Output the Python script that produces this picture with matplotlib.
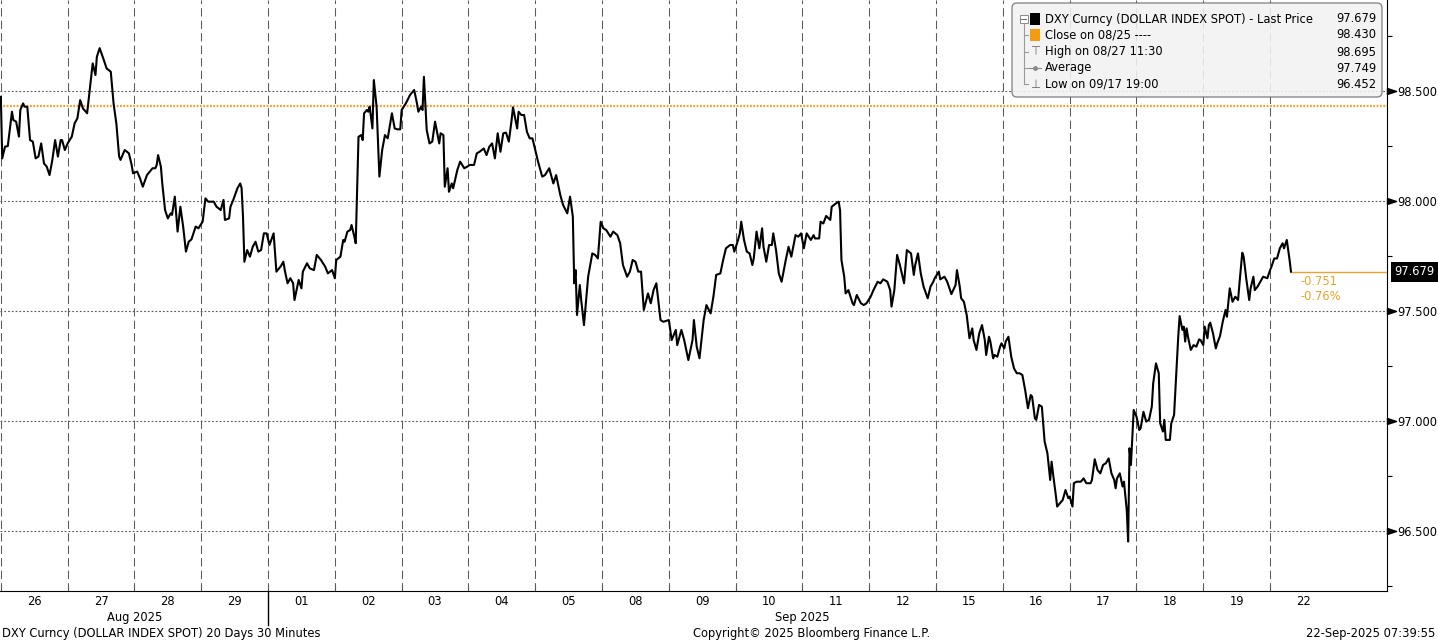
import numpy as np
import matplotlib.pyplot as plt
from matplotlib.patches import FancyBboxPatch, Rectangle
from matplotlib.lines import Line2D
from matplotlib.path import Path
from matplotlib.transforms import blended_transform_factory

# hours since 26 Aug 00:00 (trading days only, weekends skipped) and DXY price
hours = [
    0, 0.5, 1.5, 2.5, 4, 4.5, 5.5, 6.5, 7, 8, 8.5, 9.5, 10.5, 11.5, 12.5, 13.5, 14.5, 15.5,
    16.5, 17.5, 18.5, 19.5, 20.5, 21.5, 22, 23,
    24, 25.5, 26.5, 27.5, 28.5, 29.5, 31, 32, 33, 34, 34.5, 35.5, 37, 38, 39.5, 40.5, 41.5,
    42.5, 43, 44.5, 46, 47,
    47.5, 49, 50, 51, 52.5, 54.5, 55.5, 56, 56.5, 57.5, 58, 59, 60, 61, 61.5, 62.5, 63.5,
    64.5, 65.5, 66.5, 67.5, 68.5, 70, 71,
    72.5, 73.5, 74.5, 76.5, 77.5, 79, 80, 80.5, 82, 82.5, 83.5, 85, 86, 86.5, 87, 87.5,
    88.5, 89.5, 90.5, 91.5, 92.5, 93.5, 94.5, 95.5,
    96.5, 98, 99, 100.5, 101.5, 102, 103, 104, 105, 105.5, 107, 108, 108.5, 110, 111,
    112.5, 113.5, 115, 116.5, 117.5, 119,
    120, 120.5, 122, 123, 123.5, 124.5, 125.5, 126, 127, 127.5, 128.5, 129.5, 130, 130.5,
    131.5, 132, 132.5, 133.5, 134, 135, 136, 137, 138, 139, 140.5, 141.5, 142.5, 143.5,
    144, 145.5, 147, 148.5, 149.5, 150, 151, 151.5, 152, 153, 154, 155, 156, 157.5, 158,
    159, 159.5, 160.5, 161, 162, 162.5, 164, 165, 166.5, 167.5,
    168.5, 170, 171, 172, 173.5, 174.5, 175.5, 176.5, 177.5, 178.5, 179.5, 180.5, 181.5,
    182.5, 183.5, 184, 185.5, 186, 187, 188, 189, 190, 191,
    192, 193, 194.5, 195.5, 197, 198.5, 199.5, 201, 202, 203.5, 204.5, 205.5, 206, 206.5,
    207, 208, 208.5, 209.5, 210.5, 211, 212.5, 213.5, 214.5,
    215.5, 216.5, 217.5, 219, 220, 221.5, 222.5, 223.5, 225, 226, 227, 228, 229, 230, 231,
    232.5, 233.5, 234.5, 235.5, 237, 238,
    240, 241, 242.5, 243, 244.5, 245.5, 247, 248.5, 249, 250, 251, 252.5, 253.5, 255, 256,
    257, 258.5, 259.5, 260.5, 262,
    263, 263.5, 264.5, 265.5, 266, 267, 268, 269, 270, 270.5, 271.5, 272.5, 273.5, 274,
    275, 276, 277, 277.5, 278.5, 279.5, 280.5, 282, 283, 284, 285.5, 286.5,
    287.5, 288.5, 289.5, 291, 292, 292.5, 294, 294.5, 295.5, 296.5, 298, 298.5, 300, 301,
    301.5, 302, 303, 303.5, 304.5, 306, 306.5, 307.5, 309, 310,
    311, 312.5, 313.5, 315, 316, 317, 318.5, 319.5, 320, 321, 322, 323, 324.5, 325.5, 327,
    328, 328.5, 329.5, 330.5, 331.5, 333, 334,
    335, 335.5, 337, 337.5, 339, 340, 341, 341.5, 343, 343.5, 344.5, 345, 346, 347, 348,
    349, 349.5, 350.5, 351.5, 352.5, 353.5, 354, 355, 355.5, 356.5, 357, 358,
    359, 359.5, 360.5, 361, 362, 363, 364, 365, 366, 367, 368, 369, 370, 370.5, 371.5,
    372, 373, 374, 375, 376, 377, 377.5, 378, 379, 379.5, 380.5, 381.5,
    382.5, 383.5, 384, 385, 385.5, 386.5, 388, 389, 390, 391.5, 392, 393, 394, 395, 396,
    397, 398, 399, 400, 400.5, 401, 402, 403, 403.5, 404.5, 405,
    405.5, 406, 407, 408, 409, 409.5, 410.5, 411.5, 412.5, 413.5, 414, 415, 416, 416.5,
    417.5, 418, 418.5, 420, 420.5, 421.5, 422.5, 423, 423.5, 424.5, 425, 425.5, 426, 426.5,
    427.5, 428.5, 429.5, 430.5, 431, 432, 432.5, 433.5, 434, 434.5, 435.5, 436.5, 437, 438,
    439, 440, 440.5, 441.5, 442.5, 443.5, 444.5, 445, 446, 446.5, 447.5, 448.5, 449, 450,
    450.5, 451.5, 452.5, 453.5, 455, 456, 456.5, 457.5, 458.5, 459.5, 460.5, 461, 462,
    462.5, 463, 463.5,
]
price = [
    98.474, 98.194, 98.247, 98.250, 98.406, 98.368, 98.361, 98.293, 98.414, 98.444, 98.429,
    98.429, 98.277, 98.270, 98.194, 98.202, 98.262, 98.171, 98.156, 98.118, 98.187, 98.277,
    98.202, 98.277, 98.277, 98.232,
    98.262, 98.293, 98.353, 98.376, 98.459, 98.421, 98.399, 98.512, 98.626, 98.573, 98.656,
    98.695, 98.641, 98.603, 98.588, 98.444, 98.353, 98.202, 98.187, 98.232, 98.217, 98.164,
    98.126, 98.134, 98.103, 98.065, 98.118, 98.149, 98.149, 98.164, 98.209, 98.156, 98.080,
    97.959, 97.921, 97.944, 97.937, 98.020, 97.861, 97.974, 97.884, 97.770, 97.815, 97.826,
    97.884, 97.876,
    97.906, 98.012, 97.997, 97.997, 97.974, 97.959, 98.005, 97.914, 97.921, 97.974, 98.005,
    98.058, 98.080, 98.058, 97.929, 97.724, 97.777, 97.747, 97.792, 97.815, 97.770, 97.777,
    97.853, 97.853,
    97.800, 97.853, 97.679, 97.702, 97.724, 97.686, 97.626, 97.649, 97.626, 97.550, 97.641,
    97.603, 97.679, 97.717, 97.694, 97.686, 97.755, 97.732, 97.702, 97.671, 97.686,
    97.649, 97.732, 97.747, 97.823, 97.815, 97.861, 97.868, 97.891, 97.838, 97.808, 98.292,
    98.300, 98.277, 98.399, 98.414, 98.406, 98.429, 98.330, 98.550, 98.429, 98.111, 98.232,
    98.300, 98.285, 98.399, 98.330, 98.326, 98.326,
    98.414, 98.444, 98.482, 98.505, 98.444, 98.406, 98.429, 98.414, 98.565, 98.323, 98.262,
    98.270, 98.361, 98.262, 98.308, 98.300, 98.065, 98.149, 98.042, 98.080, 98.058, 98.141,
    98.179, 98.149, 98.156,
    98.164, 98.164, 98.217, 98.224, 98.239, 98.209, 98.247, 98.262, 98.194, 98.308, 98.224,
    98.308, 98.311, 98.270, 98.368, 98.426, 98.330, 98.406, 98.391, 98.391, 98.315, 98.285,
    98.285,
    98.232, 98.179, 98.111, 98.118, 98.149, 98.080, 98.118, 98.027, 97.982, 97.944, 98.020,
    97.929, 97.626, 97.686, 97.482, 97.618, 97.550, 97.436, 97.580, 97.656, 97.762, 97.755,
    97.739,
    97.906, 97.876, 97.868, 97.838, 97.861, 97.845, 97.808, 97.709, 97.656, 97.679, 97.732,
    97.724, 97.679, 97.679, 97.505, 97.580, 97.535, 97.595, 97.626, 97.459, 97.451,
    97.459, 97.368, 97.414, 97.345, 97.414, 97.368, 97.277, 97.368, 97.459, 97.338, 97.285,
    97.459, 97.527, 97.489, 97.565, 97.664, 97.671, 97.732, 97.785, 97.800,
    97.800, 97.770, 97.808, 97.853, 97.906, 97.823, 97.770, 97.762, 97.709, 97.739, 97.861,
    97.785, 97.876, 97.792, 97.724, 97.800, 97.800, 97.853, 97.777, 97.671, 97.633, 97.732,
    97.792, 97.747, 97.845, 97.838,
    97.853, 97.785, 97.853, 97.823, 97.845, 97.830, 97.830, 97.906, 97.898, 97.932, 97.914,
    97.974, 97.989, 97.997, 97.959, 97.732, 97.656, 97.580, 97.595, 97.535, 97.527, 97.573,
    97.535, 97.527,
    97.535, 97.565, 97.595, 97.633, 97.626, 97.644, 97.633, 97.595, 97.520, 97.595, 97.755,
    97.709, 97.626, 97.777, 97.762, 97.664, 97.709, 97.762, 97.671, 97.611, 97.558, 97.611,
    97.633, 97.649, 97.679, 97.644, 97.656, 97.633, 97.595, 97.577, 97.618, 97.686, 97.611,
    97.558, 97.542, 97.482, 97.376, 97.421, 97.368, 97.323, 97.398, 97.436, 97.368, 97.300,
    97.383, 97.361, 97.285, 97.300, 97.292,
    97.338, 97.353, 97.330, 97.361, 97.383, 97.292, 97.239, 97.217, 97.217, 97.209, 97.141,
    97.058, 97.118, 97.111, 97.012, 97.005, 97.073, 97.065, 96.906, 96.853, 96.732, 96.815,
    96.762, 96.664, 96.611, 96.626, 96.641,
    96.686, 96.649, 96.656, 96.611, 96.717, 96.724, 96.724, 96.739, 96.717, 96.717, 96.732,
    96.826, 96.777, 96.762, 96.800, 96.808, 96.830, 96.762, 96.732, 96.694, 96.739, 96.762,
    96.702, 96.724, 96.595, 96.452,
    96.876, 96.800, 97.050, 97.020, 96.959, 96.967, 97.042, 96.997, 97.005, 97.065, 97.171,
    97.262, 97.217, 96.990, 96.952, 97.005, 96.914, 96.914, 96.990, 97.027, 97.262, 97.383,
    97.477, 97.414, 97.429, 97.361, 97.421, 97.383,
    97.323, 97.345, 97.338, 97.371, 97.368, 97.345, 97.429, 97.376, 97.436, 97.447, 97.398,
    97.330, 97.353, 97.386, 97.452, 97.505, 97.474, 97.603, 97.542, 97.565, 97.550, 97.626,
    97.765, 97.747, 97.641, 97.550, 97.603, 97.656,
    97.595, 97.611, 97.633, 97.656, 97.649, 97.686, 97.702, 97.739, 97.739, 97.785, 97.808,
    97.785, 97.823, 97.777, 97.732, 97.679,
]

day_labels = ['26', '27', '28', '29', '01', '02', '03', '04', '05', '08',
              '09', '10', '11', '12', '15', '16', '17', '18', '19', '22']
months = ['Aug 2025', 'Sep 2025']
month_start = [0, 4]  # first day index of each month
prev_close = 98.430
high_val, high_when = 98.695, '08/27 11:30'
avg_val = 97.749
low_val, low_when = 96.452, '09/17 19:00'
y_ticks = [96.5, 97.0, 97.5, 98.0, 98.5]

orange = '#eea12a'
grey = '#5a5a5a'
fs = 8.3

fig = plt.figure(figsize=(14.38, 6.43), dpi=100)
ax = fig.add_axes([0, 52 / 643, 1387 / 1438, 591 / 643])
ax.set_xlim(-0.3, 498)
ax.set_ylim(96.227, 98.914)

# grid: dashed day separators, dotted price levels
n_days = len(day_labels)
for d in range(n_days):
    ax.axvline(d * 24, color=grey, lw=0.75, dashes=(8, 4), zorder=1)
for v in y_ticks:
    ax.axhline(v, color=grey, lw=0.8, dashes=(1.6, 1.8), zorder=1)
ax.axhline(prev_close, color=orange, lw=1.6, dashes=(0.8, 0.7), zorder=2)

ax.plot(hours, price, color='black', lw=1.5, zorder=5, solid_joinstyle='round')

# last price marker line + change texts
last = price[-1]
ax.hlines(last, hours[-1], ax.get_xlim()[1], color=orange, lw=1, zorder=4)
chg = last - prev_close
pct = chg / prev_close * 100
ax.annotate(f'{chg:.3f}', (hours[-1], last), xytext=(10, -10), textcoords='offset pixels',
            color=orange, fontsize=fs, va='center', ha='left')
ax.annotate(f'{pct:.2f}%', (hours[-1], last), xytext=(10, -25), textcoords='offset pixels',
            color=orange, fontsize=fs, va='center', ha='left')

# spines / axes
for s in ['left', 'top']:
    ax.spines[s].set_visible(False)
ax.spines['right'].set_color('black')
ax.spines['bottom'].set_color('black')

ax.yaxis.tick_right()
ax.set_yticks(y_ticks)
ax.set_yticklabels([f'{v:.3f}' for v in y_ticks])
ax.set_yticks(np.arange(96.25, 98.8, 0.5), minor=True)
ax.tick_params(axis='y', which='major', length=0, pad=7.5, labelsize=fs)
ax.tick_params(axis='y', which='minor', length=3.5, width=0.8, direction='out')

yblend = blended_transform_factory(ax.transAxes, ax.transData)
arrow = Path([(0, -0.33), (1, 0), (0, 0.33), (0, -0.33)],
             [Path.MOVETO, Path.LINETO, Path.LINETO, Path.CLOSEPOLY])
for v in y_ticks:
    ax.plot(1.0, v, marker=arrow, markersize=13, color='black', transform=yblend,
            clip_on=False, zorder=6)

ax.text(1.0 + 7 / 1387, last, f'{last:.3f}', transform=yblend, color='white',
        fontsize=fs, va='center', ha='left',
        bbox=dict(boxstyle='square,pad=0.3', fc='black', ec='none'))

ax.set_xticks([d * 24 for d in range(n_days)])
ax.set_xticklabels([])
ax.tick_params(axis='x', which='major', length=4, direction='in', color=grey)
ax.set_xticks([(d + 0.5) * 24 for d in range(n_days)], minor=True)
ax.set_xticklabels(day_labels, minor=True)
ax.tick_params(axis='x', which='minor', length=0, pad=3, labelsize=fs)

xblend = blended_transform_factory(ax.transData, ax.transAxes)
for i, m in enumerate(months):
    d0 = month_start[i]
    d1 = month_start[i + 1] if i + 1 < len(months) else n_days
    ax.text((d0 + d1) / 2 * 24, -0.044, m, transform=xblend, fontsize=fs,
            ha='center', va='center')
    if d0 > 0:
        ax.plot([d0 * 24, d0 * 24], [0, -0.058], transform=xblend, color='black',
                lw=1, clip_on=False)

# footer
fig.text(2 / 1438, 9 / 643, 'DXY Curncy (DOLLAR INDEX SPOT) 20 Days 30 Minutes',
         fontsize=fs, ha='left', va='center')
fig.text(693 / 1438, 9 / 643, 'Copyright\u00a9 2025 Bloomberg Finance L.P.',
         fontsize=fs, ha='left', va='center')
fig.text(1435 / 1438, 9 / 643, '22-Sep-2025 07:39:55', fontsize=fs, ha='right', va='center')

# legend box (inches from bottom-left)
tr = fig.dpi_scale_trans
box = FancyBboxPatch((10.12, 5.46), 3.70, 0.94, boxstyle='round,pad=0,rounding_size=0.05',
                     transform=tr, fc='#f2f2f2', ec='#7a7a7a', lw=1, alpha=0.88, zorder=10)
fig.patches.append(box)
rows_y = [6.24, 6.08, 5.91, 5.75, 5.59]
labels = ['DXY Curncy (DOLLAR INDEX SPOT) - Last Price', 'Close on 08/25 ----',
          f'High on {high_when}', 'Average', f'Low on {low_when}']
values = [last, prev_close, high_val, avg_val, low_val]
for y, lab, val in zip(rows_y, labels, values):
    fig.text(10.45, y, lab, transform=tr, fontsize=fs, ha='left', va='center', zorder=11)
    fig.text(13.76, y, f'{val:.3f}', transform=tr, fontsize=fs, ha='right', va='center',
             zorder=11)
# tree connectors and icons
fig.lines.append(Line2D([10.235, 10.235], [rows_y[0] - 0.05, rows_y[-1]], transform=tr,
                        color='#9a9a9a', lw=0.8, zorder=11))
for y in rows_y[1:]:
    fig.lines.append(Line2D([10.235, 10.28], [y, y], transform=tr, color='#9a9a9a',
                            lw=0.8, zorder=11))
fig.patches.append(Rectangle((10.195, rows_y[0] - 0.04), 0.08, 0.08, transform=tr,
                             fc='white', ec='#8a8a8a', lw=0.7, zorder=12))
fig.lines.append(Line2D([10.21, 10.26], [rows_y[0], rows_y[0]], transform=tr,
                        color='#6a6a6a', lw=0.7, zorder=13))
fig.patches.append(Rectangle((10.30, rows_y[0] - 0.055), 0.10, 0.11, transform=tr,
                             fc='black', ec='none', zorder=12))
fig.patches.append(Rectangle((10.30, rows_y[1] - 0.055), 0.10, 0.11, transform=tr,
                             fc='#f39c12', ec='none', zorder=12))
fig.text(10.35, rows_y[2], '\u22a4', transform=tr, fontsize=fs, color='#6a6a6a',
         ha='center', va='center', zorder=12)
fig.lines.append(Line2D([10.29, 10.41], [rows_y[3], rows_y[3]], transform=tr,
                        color='#8a8a8a', lw=0.8, zorder=12))
fig.lines.append(Line2D([10.35], [rows_y[3]], transform=tr, color='#8a8a8a', marker='o',
                        markersize=2.5, lw=0, zorder=12))
fig.text(10.35, rows_y[4], '\u22a5', transform=tr, fontsize=fs, color='#6a6a6a',
         ha='center', va='center', zorder=12)

fig.savefig('out.png', dpi=100)
